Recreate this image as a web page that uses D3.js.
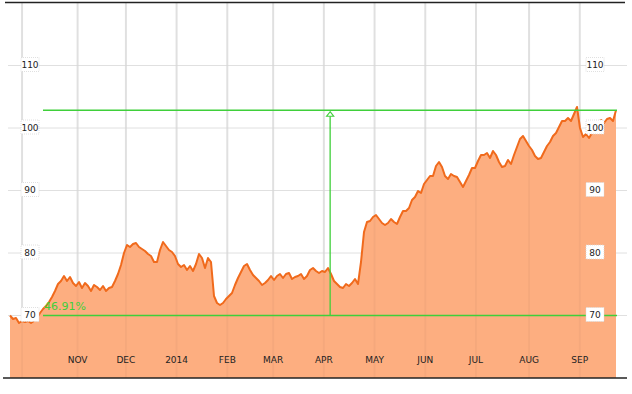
<!DOCTYPE html>
<html>
<head>
<meta charset="utf-8">
<script src="https://cdn.jsdelivr.net/npm/d3@7"></script>
<style>
  body { margin: 0; background: #fff; }
  svg text { font-family: "DejaVu Sans", Verdana, sans-serif; }
</style>
</head>
<body>
<div id="chart"></div>
<script>
// closing prices, Sep 2013 - Sep 2014, one reading about every 1.25 sessions
let price = [
  70.00, 69.44, 69.60, 68.80, 69.12, 68.96, 69.12, 68.80, 69.12, 69.60,
  70.40, 71.04, 71.52, 72.16, 72.96, 73.92, 75.04, 75.52, 76.32, 75.52,
  76.16, 75.20, 74.72, 75.36, 74.40, 75.20, 74.72, 73.92, 74.88, 74.56,
  74.08, 74.72, 73.92, 74.40, 74.56, 75.52, 76.64, 78.08, 80.00, 81.28,
  80.96, 81.44, 81.60, 80.96, 80.64, 80.32, 79.84, 79.52, 78.56, 78.56,
  80.48, 81.76, 81.12, 80.48, 80.16, 79.52, 78.24, 77.76, 78.08, 77.28,
  77.92, 77.12, 78.24, 79.84, 79.20, 77.60, 79.20, 78.56, 73.12, 72.00,
  71.68, 72.00, 72.64, 73.12, 73.60, 74.88, 76.00, 76.96, 77.92, 78.24,
  77.28, 76.48, 76.00, 75.52, 74.88, 75.20, 75.68, 76.32, 75.68, 76.32,
  76.64, 76.00, 76.64, 76.80, 75.84, 76.16, 76.32, 76.64, 75.84, 76.32,
  77.28, 77.60, 77.12, 76.80, 77.12, 76.96, 77.60, 76.64, 75.52, 75.04,
  74.56, 74.40, 75.04, 74.72, 75.20, 75.84, 75.04, 78.56, 83.36, 84.96,
  85.12, 85.76, 86.08, 85.44, 84.80, 84.48, 84.80, 85.44, 84.96, 84.64,
  85.76, 86.72, 86.72, 87.20, 88.48, 88.96, 89.92, 89.60, 91.04, 91.68,
  92.32, 92.32, 93.92, 94.56, 93.76, 92.32, 91.84, 92.64, 92.32, 92.16,
  91.36, 90.56, 91.52, 92.48, 93.60, 93.60, 94.72, 95.68, 95.68, 96.00,
  95.20, 96.32, 95.68, 94.56, 93.76, 93.92, 94.88, 94.24, 95.68, 96.96,
  98.24, 98.72, 97.92, 97.12, 96.48, 95.52, 95.04, 95.20, 96.16, 97.12,
  97.76, 98.72, 99.20, 100.16, 101.12, 101.12, 101.60, 101.12, 102.24, 103.36,
  100.00, 98.56, 99.04, 98.40, 99.20, 100.16, 100.96, 101.28, 100.80, 101.44,
  101.60, 101.12, 102.84
]

let monthSession = [5, 28, 48, 69, 90, 109, 130, 151, 172, 193, 215, 236]
let monthLabel = ["", "NOV", "DEC", "2014", "FEB", "MAR", "APR", "MAY", "JUN", "JUL", "AUG", "SEP"]
let yTicks = [70, 80, 90, 100, 110]
let lastSession = 251
let measureSession = 132.6

let width = 632, height = 394
let green = "#3fcf3a"

let svg = d3.select("#chart")
    .append("svg")
    .attr("width", width)
    .attr("height", height)

let x = d3.scaleLinear().domain([0, lastSession]).range([10, 616])
let y = d3.scaleLinear().domain([60, 120]).range([378, 3])

let data = price.map((p, i) => ({ s: i * lastSession / (price.length - 1), v: p }))

// grid
svg.append("g")
    .selectAll("line")
    .data(monthSession)
    .enter()
    .append("line")
    .attr("x1", d => x(d)).attr("x2", d => x(d))
    .attr("y1", 3).attr("y2", 378)
    .style("stroke", "#e8e8e8")
    .style("stroke-width", 2)

svg.append("g")
    .selectAll("line")
    .data(yTicks)
    .enter()
    .append("line")
    .attr("x1", 8).attr("x2", 627)
    .attr("y1", d => y(d)).attr("y2", d => y(d))
    .style("stroke", "#e0e0e0")
    .style("stroke-width", 1)

// area + line
let area = d3.area()
    .x(d => x(d.s))
    .y0(y(60))
    .y1(d => y(d.v))

let line = d3.line()
    .x(d => x(d.s))
    .y(d => y(d.v))

svg.append("path")
    .datum(data)
    .attr("d", area)
    .style("fill", "#fdae80")

// grid faintly showing through the fill
svg.append("g")
    .selectAll("line")
    .data(monthSession)
    .enter()
    .append("line")
    .attr("x1", d => x(d)).attr("x2", d => x(d))
    .attr("y1", 3).attr("y2", 378)
    .style("stroke", "#000")
    .style("stroke-opacity", 0.03)
    .style("stroke-width", 2)

svg.append("path")
    .datum(data)
    .attr("d", line)
    .style("fill", "none")
    .style("stroke", "#f06a1c")
    .style("stroke-width", 2)
    .style("stroke-linejoin", "round")

// frame lines
svg.append("line")
    .attr("x1", 3).attr("x2", 627)
    .attr("y1", y(60)).attr("y2", y(60))
    .style("stroke", "#222").style("stroke-width", 1.5)
svg.append("line")
    .attr("x1", 5).attr("x2", 625)
    .attr("y1", 2.5).attr("y2", 2.5)
    .style("stroke", "#222").style("stroke-width", 1.5)

// measurement: first close to last close
let first = price[0], last = price[price.length - 1]
let pct = (last / first - 1) * 100
let mx = x(measureSession)

svg.append("line")
    .attr("x1", 43).attr("x2", 617)
    .attr("y1", y(first)).attr("y2", y(first))
    .style("stroke", green).style("stroke-width", 1.3)
svg.append("line")
    .attr("x1", 43).attr("x2", 617)
    .attr("y1", y(last)).attr("y2", y(last))
    .style("stroke", green).style("stroke-width", 1.3)
svg.append("line")
    .attr("x1", mx).attr("x2", mx)
    .attr("y1", y(first)).attr("y2", y(last) + 6)
    .style("stroke", green).style("stroke-width", 1.3)
svg.append("path")
    .attr("d", `M${mx},${y(last) + 1.5} L${mx - 3.5},${y(last) + 6} L${mx + 3.5},${y(last) + 6} Z`)
    .style("fill", "#fff")
    .style("stroke", green).style("stroke-width", 1.2)
svg.append("text")
    .attr("x", 44)
    .attr("y", y(first) - 6)
    .text(pct.toFixed(2) + "%")
    .style("fill", green)
    .style("font-size", "11px")

// x labels
svg.append("g")
    .selectAll("text")
    .data(monthSession)
    .enter()
    .append("text")
    .attr("x", d => x(d))
    .attr("y", 363)
    .attr("text-anchor", "middle")
    .text((d, i) => monthLabel[i])
    .style("font-size", "9px")
    .style("fill", "#222")

// y labels, both sides
;[30, 595].forEach(cx => {
    let g = svg.append("g")
        .selectAll("g")
        .data(yTicks)
        .enter()
        .append("g")
    g.append("rect")
        .attr("x", cx - 9)
        .attr("y", d => y(d) - 8)
        .attr("width", 18)
        .attr("height", 14)
        .style("fill", "#fff")
        .style("stroke", "#d8d8d8")
        .style("stroke-width", 0.8)
        .style("stroke-dasharray", "1,1")
    g.append("text")
        .attr("x", cx)
        .attr("y", d => y(d) + 2.5)
        .attr("text-anchor", "middle")
        .text(d => d)
        .style("font-size", "9px")
        .style("fill", "#222")
})
</script>
</body>
</html>
